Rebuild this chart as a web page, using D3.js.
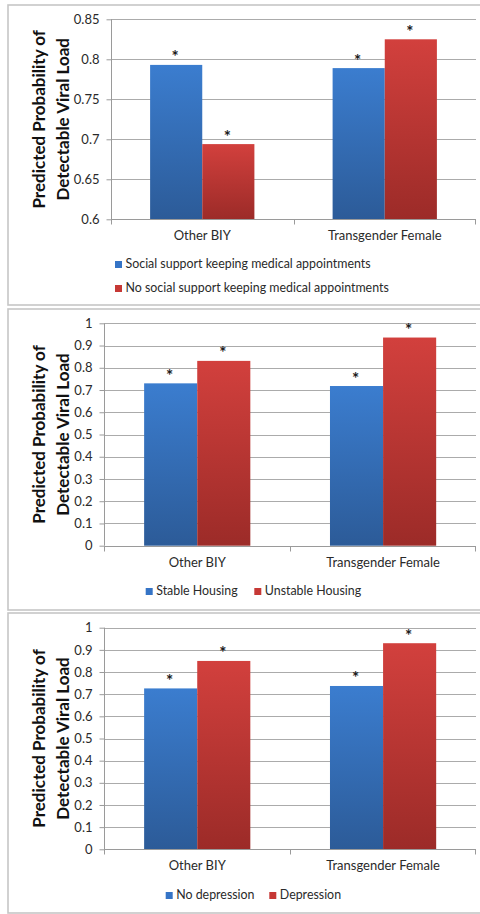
<!DOCTYPE html>
<html><head><meta charset="utf-8">
<script src="https://cdn.jsdelivr.net/npm/d3@7"></script>
<style>html,body{margin:0;padding:0;background:#fff;}svg{display:block;}</style>
</head><body>
<script>
const categories = ["Other BIY", "Transgender Female"];

const p1Series = ["Social support keeping medical appointments", "No social support keeping medical appointments"];
const p1Values = [[0.793, 0.694], [0.789, 0.825]];
const p1Ticks = [0.6, 0.65, 0.7, 0.75, 0.8, 0.85];
const p1TickLabels = ["0.6", "0.65", "0.7", "0.75", "0.8", "0.85"];

const p2Series = ["Stable Housing", "Unstable Housing"];
const p2Values = [[0.73, 0.831], [0.718, 0.936]];
const p3Series = ["No depression", "Depression"];
const p3Values = [[0.726, 0.85], [0.737, 0.93]];
const p23Ticks = [0, 0.1, 0.2, 0.3, 0.4, 0.5, 0.6, 0.7, 0.8, 0.9, 1];
const p23TickLabels = ["0", "0.1", "0.2", "0.3", "0.4", "0.5", "0.6", "0.7", "0.8", "0.9", "1"];

const yTitle = ["Predicted Probability of", "Detectable Viral Load"];
const marker = "*";

const FONT = "Lato, 'Open Sans', sans-serif";
const W = 480, H = 914;
const svg = d3.select("body").append("svg").attr("width", W).attr("height", H);

const defs = svg.append("defs");
function grad(id, top, bot) {
  const g = defs.append("linearGradient").attr("id", id).attr("x1", 0).attr("y1", 0).attr("x2", 0).attr("y2", 1);
  g.append("stop").attr("offset", "0%").attr("stop-color", top);
  g.append("stop").attr("offset", "100%").attr("stop-color", bot);
}
grad("gBlue", "#3b7dcf", "#2c5b98");
grad("gRed", "#d2403d", "#9c2b28");
const fills = ["url(#gBlue)", "url(#gRed)"];
const legendFills = ["#3574c6", "#c63835"];

const panels = [
  {box: [5, 305], plot: {x0: 111, x1: 476, yTop: 19.3, yBot: 219.3}, domain: [0.6, 0.85],
   ticks: p1Ticks, labels: p1TickLabels, series: p1Series, values: p1Values, legend: "stacked",
   legendPos: {x: 115, y: [268, 292]}},
  {box: [309, 610], plot: {x0: 104.3, x1: 476, yTop: 323.3, yBot: 545.7}, domain: [0, 1],
   ticks: p23Ticks, labels: p23TickLabels, series: p2Series, values: p2Values, legend: "row",
   legendPos: {x: [145.7, 254.3], y: 595}},
  {box: [613, 913], plot: {x0: 104.3, x1: 476, yTop: 627.7, yBot: 849.3}, domain: [0, 1],
   ticks: p23Ticks, labels: p23TickLabels, series: p3Series, values: p3Values, legend: "row",
   legendPos: {x: [165.7, 269.3], y: 899}}
];

panels.forEach(p => {
  svg.append("rect").attr("x", 8).attr("y", p.box[0]).attr("width", W + 10).attr("height", p.box[1] - p.box[0])
    .attr("fill", "#fff").attr("stroke", "#c6c6c6").attr("stroke-width", 1.6);

  const g = svg.append("g");
  const y = d3.scaleLinear().domain(p.domain).range([p.plot.yBot, p.plot.yTop]);
  const x = d3.scaleBand().domain(categories).range([p.plot.x0, p.plot.x1]).paddingInner(0).paddingOuter(0);
  const bw = x.bandwidth() / 3.5;
  const xs = d3.scaleBand().domain([0, 1]).range([0.75 * bw, 2.75 * bw]).padding(0);

  g.selectAll(".grid").data(p.ticks).join("line")
    .attr("x1", p.plot.x0).attr("x2", p.plot.x1)
    .attr("y1", d => Math.round(y(d)) + 0.5).attr("y2", d => Math.round(y(d)) + 0.5)
    .attr("stroke", "#ababab").attr("stroke-width", 1);

  const yAxis = d3.axisLeft(y).tickValues(p.ticks).tickFormat((d, i) => p.labels[i]).tickSize(5).tickPadding(7);
  const ya = g.append("g").attr("transform", `translate(${Math.round(p.plot.x0) + 0.5},0)`).call(yAxis);
  ya.select(".domain").attr("stroke", "#9a9a9a").attr("d", `M-0,${p.plot.yTop}V${p.plot.yBot}`);
  ya.selectAll(".tick line").attr("stroke", "#9a9a9a");
  ya.selectAll(".tick text").attr("font-family", FONT).attr("font-size", 13).attr("fill", "#2a2a2a");

  categories.forEach((c, ci) => {
    p.values[ci].forEach((v, si) => {
      const bx = x(c) + xs(si);
      g.append("rect").attr("x", bx).attr("y", y(v)).attr("width", xs.bandwidth())
        .attr("height", y(p.domain[0]) - y(v)).attr("fill", fills[si]);
      g.append("text").attr("x", bx + xs.bandwidth() / 2 - 1).attr("y", y(v) - 1.5)
        .attr("text-anchor", "middle").attr("font-family", FONT).attr("font-weight", "bold")
        .attr("font-size", 17).attr("fill", "#1a1a1a").text(marker);
    });
  });

  const xb = Math.round(p.plot.yBot) + 0.5;
  g.append("line").attr("x1", p.plot.x0).attr("x2", p.plot.x1).attr("y1", xb).attr("y2", xb).attr("stroke", "#9a9a9a");
  const bounds = [p.plot.x0, x(categories[1]), p.plot.x1 - 1];
  g.selectAll(".xt").data(bounds).join("line")
    .attr("x1", d => Math.round(d) + 0.5).attr("x2", d => Math.round(d) + 0.5)
    .attr("y1", xb).attr("y2", xb + 5).attr("stroke", "#9a9a9a");
  categories.forEach(c => {
    g.append("text").attr("x", x(c) + x.bandwidth() / 2).attr("y", p.plot.yBot + 21)
      .attr("text-anchor", "middle").attr("font-family", FONT).attr("font-size", 13).attr("fill", "#2a2a2a").text(c);
  });

  const cy = (p.plot.yTop + p.plot.yBot) / 2;
  [38, 62].forEach((cx, i) => {
    g.append("text").attr("transform", `translate(${cx},${cy}) rotate(-90)`)
      .attr("text-anchor", "middle").attr("dominant-baseline", "central")
      .attr("font-family", FONT).attr("font-weight", "bold").attr("font-size", 17).attr("fill", "#111").text(yTitle[i]);
  });

  p.series.forEach((s, si) => {
    let lx, ly;
    if (p.legend === "stacked") { lx = p.legendPos.x; ly = p.legendPos.y[si]; }
    else { lx = p.legendPos.x[si]; ly = p.legendPos.y; }
    g.append("rect").attr("x", lx).attr("y", ly - 7).attr("width", 7).attr("height", 7).attr("fill", legendFills[si]);
    g.append("text").attr("x", lx + 10.5).attr("y", ly).attr("font-family", FONT).attr("font-size", 12.4)
      .attr("fill", "#2a2a2a").text(s);
  });
});
</script>
</body></html>
